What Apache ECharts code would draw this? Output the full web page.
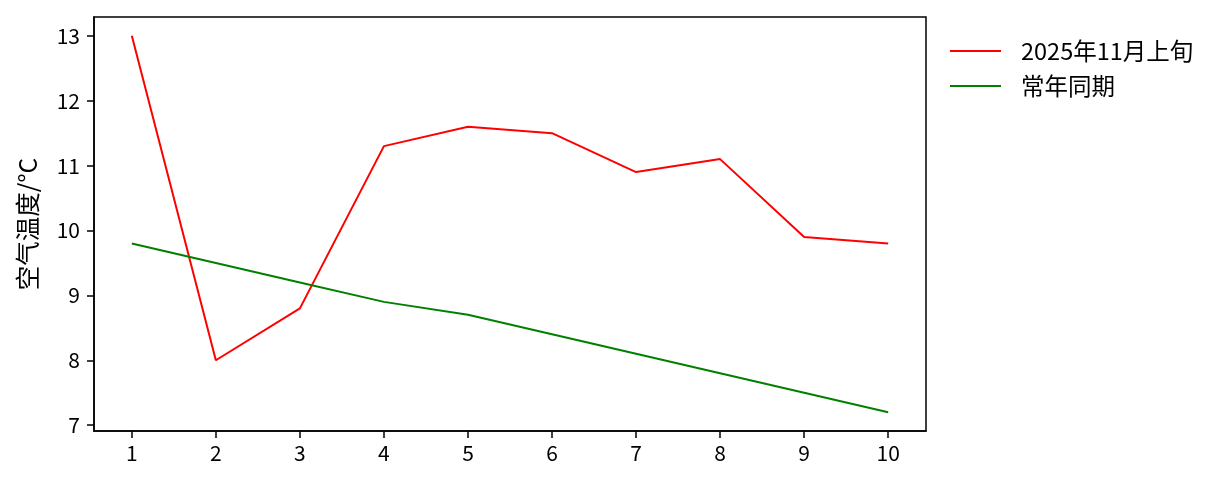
<!DOCTYPE html>
<html><head><meta charset="utf-8">
<script src="https://cdn.jsdelivr.net/npm/echarts@6/dist/echarts.min.js"></script>
<style>html,body{margin:0;padding:0;background:#fff}#c{width:1222px;height:487px}</style>
</head><body><div id="c"></div>
<script>
const days = [1, 2, 3, 4, 5, 6, 7, 8, 9, 10];
const thisYear = [13.0, 8.0, 8.8, 11.3, 11.6, 11.5, 10.9, 11.1, 9.9, 9.8];
const normal = [9.8, 9.5, 9.2, 8.9, 8.7, 8.4, 8.1, 7.8, 7.5, 7.2];
const yTicks = [7, 8, 9, 10, 11, 12, 13];
const seriesNames = ['2025年11月上旬', '常年同期'];
const FONT = '"Noto Sans CJK SC", "DejaVu Sans", sans-serif';

const chart = echarts.init(document.getElementById('c'));
chart.setOption({
  animation: false,
  backgroundColor: '#fff',
  textStyle: {fontFamily: FONT},
  grid: {left: 94, top: 17, right: 296, bottom: 56, show: true, borderColor: '#000', borderWidth: 1.5, backgroundColor: 'transparent'},
  legend: {
    orient: 'vertical', left: 950, top: 39, padding: 0, icon: 'rect', itemWidth: 51, itemHeight: 2, itemGap: 11,
    textStyle: {fontFamily: FONT, fontSize: 23.5, color: '#000', lineHeight: 24, padding: [0,0,0,15]},
    data: seriesNames
  },
  xAxis: {
    type: 'value', min: 0.55, max: 10.45,
    axisLine: {show: true, lineStyle: {color: '#000', width: 1.5}},
    axisTick: {show: true, inside: false, length: 7, customValues: days, lineStyle: {color: '#000', width: 1.5}},
    axisLabel: {customValues: days, margin: 12, fontSize: 21, color: '#000', fontFamily: FONT},
    splitLine: {show: false}
  },
  yAxis: {
    type: 'value', min: 6.91, max: 13.29,
    name: '空气温度/°C', nameLocation: 'middle', nameRotate: 90, nameGap: 54,
    nameTextStyle: {fontSize: 24.5, color: '#000', fontFamily: FONT},
    axisLine: {show: true, lineStyle: {color: '#000', width: 1.5}},
    axisTick: {show: true, inside: false, length: 7, customValues: yTicks, lineStyle: {color: '#000', width: 1.5}},
    axisLabel: {customValues: yTicks, margin: 14, fontSize: 21, color: '#000', fontFamily: FONT},
    splitLine: {show: false}
  },
  series: [
    {name: seriesNames[0], type: 'line', data: days.map((d, i) => [d, thisYear[i]]), color: '#ff0000', showSymbol: false, symbol: 'none', lineStyle: {width: 2, color: '#ff0000'}},
    {name: seriesNames[1], type: 'line', data: days.map((d, i) => [d, normal[i]]), color: '#008000', showSymbol: false, symbol: 'none', lineStyle: {width: 2, color: '#008000'}}
  ]
});
</script></body></html>
